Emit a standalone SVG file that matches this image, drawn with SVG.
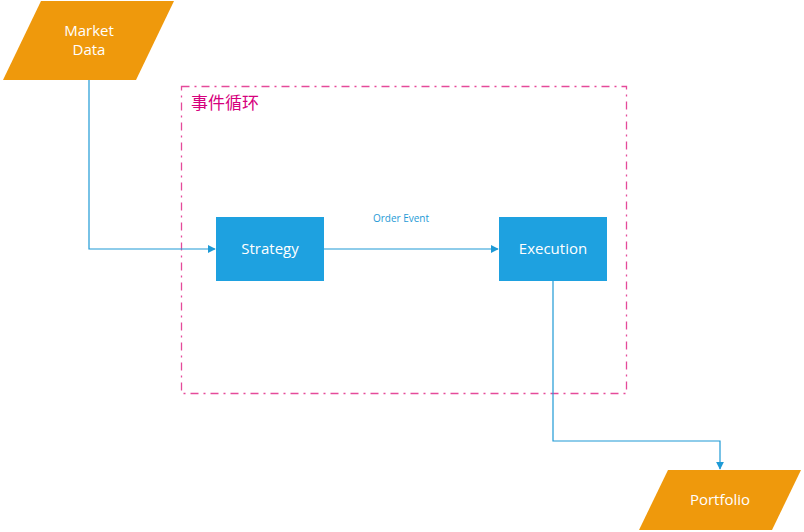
<svg xmlns="http://www.w3.org/2000/svg" width="804" height="532" viewBox="0 0 804 532">
<style>
.io{fill:#ef990c;}
.proc{fill:#1ea1e0;}
.lbl{font-family:"Open Sans","Noto Sans",sans-serif;font-size:15px;fill:#ffffff;text-anchor:middle;}
.conn{fill:none;stroke:#1e9ad6;stroke-width:1.2;}
</style>
<defs>
<marker id="arr" viewBox="0 0 10 10" refX="9" refY="5" markerWidth="8" markerHeight="8" markerUnits="userSpaceOnUse" orient="auto">
<path d="M0,0 L10,5 L0,10 z" fill="#1e9ad6"/>
</marker>
</defs>
<rect width="804" height="532" fill="#ffffff"/>
<g id="loop">
<rect x="181.5" y="86.5" width="445" height="307" fill="none" stroke="#e54a9a" stroke-width="1.3" stroke-dasharray="8,5,2,5"/>
<text x="191" y="109" font-family="'Noto Sans CJK SC',sans-serif" font-size="17" fill="#d6007d">事件循环</text>
</g>
<g id="connectors">
<path class="conn" d="M89,80 V249 H215" marker-end="url(#arr)"/>
<path class="conn" d="M324,249 H498" marker-end="url(#arr)"/>
<path class="conn" d="M553,281 V441 H720 V469" marker-end="url(#arr)"/>
<text x="401" y="222" font-family="'Open Sans','Noto Sans',sans-serif" font-size="10" fill="#1e9ad6" text-anchor="middle">Order Event</text>
</g>
<g id="market-data">
<polygon class="io" points="41,1 174,1 136,80 3,80"/>
<text class="lbl" x="89" y="36">Market</text>
<text class="lbl" x="89" y="55">Data</text>
</g>
<g id="strategy">
<rect class="proc" x="216" y="217" width="108" height="64"/>
<text class="lbl" x="270" y="254">Strategy</text>
</g>
<g id="execution">
<rect class="proc" x="499" y="217" width="108" height="64"/>
<text class="lbl" x="553" y="254">Execution</text>
</g>
<g id="portfolio">
<polygon class="io" points="668,470 801,470 772,530 639,530"/>
<text class="lbl" x="720" y="505">Portfolio</text>
</g>
</svg>
